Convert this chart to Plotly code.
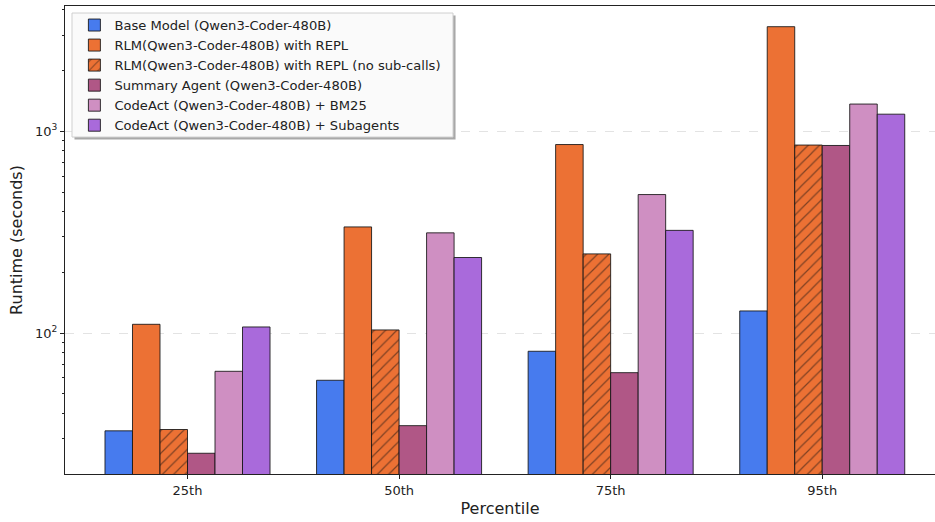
import plotly.graph_objects as go

categories = ["25th", "50th", "75th", "95th"]
series_names = [
    "Base Model (Qwen3-Coder-480B)",
    "RLM(Qwen3-Coder-480B) with REPL",
    "RLM(Qwen3-Coder-480B) with REPL (no sub-calls)",
    "Summary Agent (Qwen3-Coder-480B)",
    "CodeAct (Qwen3-Coder-480B) + BM25",
    "CodeAct (Qwen3-Coder-480B) + Subagents",
]
base_model = [32.8, 58.4, 81.3, 128.8]
rlm_repl = [110.6, 336, 860, 3300]
rlm_repl_nosub = [33.3, 103.7, 247, 855]
summary_agent = [25.4, 34.8, 63.7, 851]
codeact_bm25 = [64.7, 314, 486, 1365]
codeact_subagents = [107.3, 237, 323, 1216]

series_values = [base_model, rlm_repl, rlm_repl_nosub, summary_agent, codeact_bm25, codeact_subagents]
colors = ["#477BEE", "#EC7134", "#EC7134", "#B05786", "#CF8FC2", "#A96ADB"]
hatched = [False, False, True, False, False, False]

fig = go.Figure()
for name, vals, col, h in zip(series_names, series_values, colors, hatched):
    marker = dict(color=col, line=dict(color="rgba(20,20,20,0.85)", width=1))
    if h:
        marker["pattern"] = dict(shape="/", fgcolor="#111111", bgcolor=col, size=8, solidity=0.15, fillmode="overlay")
    fig.add_trace(go.Bar(name=name, x=categories, y=vals, marker=marker, width=0.13))

minor_vals = [v * m for m in (1, 10, 100) for v in range(20, 100, 10)]
minor_vals = [v for v in minor_vals if v not in (100, 1000) and v <= 4000]

# legend frame with shadow (paper coords)
fig.add_shape(type="rect", xref="paper", yref="paper", x0=0.0109, x1=0.4489, y0=0.7147, y1=0.9797,
              fillcolor="#a8a8a8", line=dict(width=0), layer="above")
fig.add_shape(type="rect", xref="paper", yref="paper", x0=0.00805, x1=0.446, y0=0.720, y1=0.985,
              fillcolor="rgba(250,250,250,1)", line=dict(color="#cfcfcf", width=1), layer="above")

fig.update_layout(
    width=935, height=522,
    barmode="group", bargap=0.22, bargroupgap=0,
    paper_bgcolor="white", plot_bgcolor="white",
    margin=dict(l=65, r=0, t=6, b=48),
    font=dict(family="DejaVu Sans", size=12, color="#222"),
    legend=dict(
        x=0.0108, y=0.9914, xanchor="left", yanchor="top",
        bgcolor="rgba(0,0,0,0)", borderwidth=0,
        font=dict(size=13.1, family="DejaVu Sans", color="#222"),
        tracegroupgap=0, itemwidth=30,
    ),
    showlegend=True,
)
fig.update_xaxes(
    range=[-0.579, 3.533],
    showline=True, linecolor="#222", linewidth=1.2, mirror=True,
    ticks="outside", ticklen=4, tickcolor="#222",
    tickfont=dict(size=13, family="DejaVu Sans"),
    title=dict(text="Percentile", font=dict(size=16, family="DejaVu Sans"), standoff=6),
    showgrid=False,
)
fig.update_yaxes(
    type="log",
    range=[1.302, 3.621],
    showline=True, linecolor="#222", linewidth=1.2,
    ticks="outside", ticklen=4, tickcolor="#222",
    tickvals=[100, 1000], ticktext=["10<sup>2</sup>", "10<sup>3</sup>"],
    tickfont=dict(size=13, family="DejaVu Sans"),
    showgrid=True, gridcolor="#e3e3e3", griddash="dash", gridwidth=1,
    minor=dict(tickvals=minor_vals, ticks="outside", ticklen=2, tickcolor="#222", showgrid=False),
    title=dict(text="Runtime (seconds)", font=dict(size=16, family="DejaVu Sans"), standoff=8),
    zeroline=False,
)

fig.write_html("out.html", config={"displayModeBar": False},
               post_script="document.body.style.margin='0';document.body.style.overflow='hidden';")
